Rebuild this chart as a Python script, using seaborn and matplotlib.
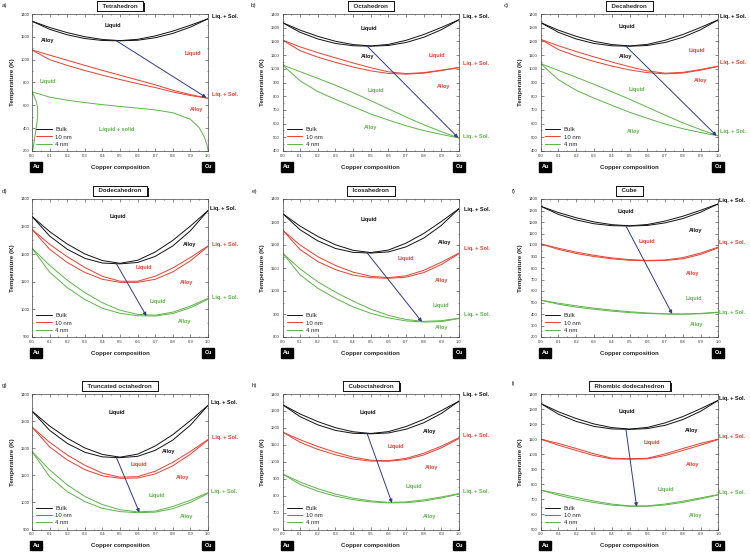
import matplotlib
matplotlib.use('Agg')
import matplotlib.pyplot as plt
import matplotlib.patheffects as pe
from matplotlib.ticker import MultipleLocator, FormatStrFormatter
import seaborn as sns

# Copper composition grid used for every curve (except the odd tetrahedron 4 nm branch)
COMPOSITION = [0.0, 0.1, 0.2, 0.3, 0.4, 0.5, 0.6, 0.7, 0.8, 0.9, 1.0]

# Bulk liquidus / solidus (same in every panel)
BULK_LIQ = [1337, 1282, 1237, 1201, 1177, 1167, 1178, 1208, 1250, 1302, 1358]
BULK_SOL = [1337, 1266, 1218, 1185, 1168, 1165, 1170, 1192, 1230, 1285, 1358]

# a) Tetrahedron
TET_10_LIQ = [1085, 1040, 995, 950, 906, 864, 822, 780, 732, 694, 662]
TET_10_SOL = [1085, 1000, 950, 905, 864, 826, 790, 756, 717, 686, 662]
TET_4_X = [0.0, 0.1, 0.2, 0.3, 0.4, 0.5, 0.6, 0.7, 0.8, 0.9, 0.95, 0.98, 0.995, 1.0]
TET_4_T = [718, 672, 645, 624, 606, 590, 576, 560, 535, 478, 405, 320, 250, 205]
TET_4_EDGE_X = [0.0, 0.012, 0.025, 0.032, 0.032, 0.026, 0.018, 0.010, 0.004]
TET_4_EDGE_T = [718, 680, 630, 580, 500, 420, 340, 260, 205]

# b) Octahedron
OCT_10_LIQ = [1210, 1160, 1118, 1080, 1043, 1008, 978, 965, 972, 990, 1010]
OCT_10_SOL = [1210, 1132, 1085, 1047, 1013, 985, 966, 961, 968, 987, 1008]
OCT_4_LIQ = [1028, 979, 930, 880, 826, 768, 708, 648, 592, 541, 495]
OCT_4_SOL = [1028, 912, 834, 777, 724, 670, 626, 584, 549, 521, 495]

# c) Decahedron
DEC_10_LIQ = [1215, 1168, 1126, 1087, 1050, 1015, 985, 968, 974, 995, 1020]
DEC_10_SOL = [1215, 1140, 1093, 1054, 1020, 992, 972, 963, 969, 990, 1017]
DEC_4_LIQ = [1038, 988, 938, 887, 833, 778, 720, 662, 606, 556, 510]
DEC_4_SOL = [1038, 920, 843, 786, 734, 683, 639, 597, 563, 535, 510]

# d) Dodecahedron
DOD_10_LIQ = [1290, 1236, 1191, 1152, 1120, 1102, 1102, 1120, 1150, 1188, 1230]
DOD_10_SOL = [1290, 1218, 1170, 1134, 1109, 1098, 1098, 1109, 1136, 1176, 1228]
DOD_4_LIQ = [1222, 1160, 1106, 1061, 1024, 997, 982, 979, 990, 1012, 1040]
DOD_4_SOL = [1222, 1135, 1079, 1036, 1004, 986, 977, 976, 985, 1006, 1037]

# e) Icosahedron
ICO_10_LIQ = [1265, 1200, 1149, 1111, 1082, 1064, 1058, 1066, 1090, 1125, 1165]
ICO_10_SOL = [1265, 1180, 1128, 1093, 1069, 1058, 1055, 1060, 1080, 1115, 1162]
ICO_4_LIQ = [1165, 1096, 1040, 995, 956, 921, 894, 876, 868, 871, 882]
ICO_4_SOL = [1165, 1070, 1012, 968, 931, 903, 883, 870, 865, 867, 880]

# f) Cube
CUB_10_LIQ = [1010, 972, 938, 910, 888, 873, 866, 870, 890, 930, 982]
CUB_10_SOL = [1010, 962, 926, 900, 880, 867, 863, 865, 880, 918, 976]
CUB_4_LIQ = [520, 494, 471, 451, 434, 420, 409, 402, 400, 405, 416]
CUB_4_SOL = [520, 485, 460, 441, 425, 412, 404, 400, 398, 402, 413]

# g) Truncated octahedron
TRO_10_LIQ = [1278, 1222, 1175, 1137, 1108, 1093, 1095, 1115, 1148, 1188, 1232]
TRO_10_SOL = [1278, 1205, 1157, 1121, 1098, 1089, 1090, 1105, 1135, 1178, 1230]
TRO_4_LIQ = [1188, 1120, 1065, 1022, 992, 973, 965, 968, 985, 1008, 1036]
TRO_4_SOL = [1188, 1095, 1040, 1003, 978, 966, 962, 964, 977, 1000, 1033]

# h) Cuboctahedron
CUO_10_LIQ = [1175, 1130, 1090, 1056, 1027, 1009, 1006, 1020, 1050, 1092, 1142]
CUO_10_SOL = [1175, 1115, 1073, 1041, 1016, 1004, 1003, 1013, 1040, 1082, 1137]
CUO_4_LIQ = [928, 880, 841, 809, 785, 769, 760, 763, 775, 792, 812]
CUO_4_SOL = [928, 866, 826, 797, 776, 763, 757, 758, 768, 786, 809]

# i) Rhombic dodecahedron
RHD_10_LIQ = [1100, 1072, 1038, 1003, 974, 970, 973, 1002, 1038, 1072, 1100]
RHD_10_SOL = [1100, 1060, 1025, 991, 969, 967, 969, 991, 1025, 1060, 1098]
RHD_4_LIQ = [762, 738, 713, 689, 669, 657, 657, 669, 688, 710, 732]
RHD_4_SOL = [762, 728, 701, 679, 662, 654, 654, 663, 680, 703, 730]

# Arrow from bulk congruent minimum to the shifted minimum
ARROW_START = (0.48, 1165)
ARROW_END_X = [0.99, 0.995, 0.99, 0.65, 0.79, 0.74, 0.61, 0.62, 0.54]
ARROW_END_T = [668, 497, 512, 976, 866, 401, 963, 757, 652]

SHAPES = ['Tetrahedron', 'Octahedron', 'Decahedron', 'Dodecahedron', 'Icosahedron',
          'Cube', 'Truncated octahedron', 'Cuboctahedron', 'Rhombic dodecahedron']
LETTERS = ['a)', 'b)', 'c)', 'd)', 'e)', 'f)', 'g)', 'h)', 'i)']

COLORS = {'bulk': '#111111', '10': '#e8402f', '4': '#5cb547'}
ARROW_COLOR = '#2c3a8c'

sns.set_theme(style='ticks')
plt.rcParams['font.family'] = ['Liberation Sans', 'DejaVu Sans']

W, H = 750, 555
fig = plt.figure(figsize=(7.5, 5.55), dpi=100)

COL_LR = [(32, 208), (282.5, 459), (540.7, 718.3)]
ROW_TB = [(14, 151), (199, 337), (394, 529.5)]
LETTER_POS = [(2, 5), (251, 5), (504, 6), (2, 191), (252, 191), (512, 191),
              (2, 385), (252, 385), (512, 384)]

L, C = 'left', 'center'
panels = [
    dict(liq10=TET_10_LIQ, sol10=TET_10_SOL, ylim=(200, 1400), step=200,
         labels=[('Liquid', 0.46, 1295, 'bulk', C), ('Alloy', 0.09, 1170, 'bulk', C),
                 ('Liq. + Sol.', 1.02, 1378, 'bulk', L), ('Liquid', 0.915, 1055, '10', C),
                 ('Liq. + Sol.', 1.02, 696, '10', L), ('Alloy', 0.935, 565, '10', C),
                 ('Liquid', 0.09, 807, '4', C), ('Liquid + solid', 0.48, 390, '4', C)]),
    dict(liq10=OCT_10_LIQ, sol10=OCT_10_SOL, liq4=OCT_4_LIQ, sol4=OCT_4_SOL, ylim=(400, 1400), step=100,
         labels=[('Liquid', 0.49, 1295, 'bulk', C), ('Alloy', 0.48, 1093, 'bulk', C),
                 ('Liq. + Sol.', 1.025, 1380, 'bulk', L), ('Liquid', 0.875, 1100, '10', C),
                 ('Liq. + Sol.', 1.025, 1040, '10', L), ('Alloy', 0.91, 870, '10', C),
                 ('Liquid', 0.53, 845, '4', C), ('Alloy', 0.5, 568, '4', C),
                 ('Liq. + Sol.', 1.025, 505, '4', L)]),
    dict(liq10=DEC_10_LIQ, sol10=DEC_10_SOL, liq4=DEC_4_LIQ, sol4=DEC_4_SOL, ylim=(400, 1400), step=100,
         labels=[('Liquid', 0.484, 1307, 'bulk', C), ('Alloy', 0.475, 1089, 'bulk', C),
                 ('Liq. + Sol.', 1.008, 1385, 'bulk', L), ('Liquid', 0.88, 1135, '10', C),
                 ('Liq. + Sol.', 1.008, 1045, '10', L), ('Alloy', 0.9, 915, '10', C),
                 ('Liquid', 0.54, 849, '4', C), ('Alloy', 0.525, 542, '4', C),
                 ('Liq. + Sol.', 1.008, 542, '4', L)]),
    dict(liq10=DOD_10_LIQ, sol10=DOD_10_SOL, liq4=DOD_4_LIQ, sol4=DOD_4_SOL, ylim=(900, 1400), step=100,
         labels=[('Liquid', 0.49, 1336, 'bulk', C), ('Alloy', 0.896, 1235, 'bulk', C),
                 ('Liq. + Sol.', 1.013, 1364, 'bulk', L), ('Liquid', 0.634, 1152, '10', C),
                 ('Liq. + Sol.', 1.025, 1235, '10', L), ('Alloy', 0.88, 1097, '10', C),
                 ('Liquid', 0.718, 1030, '4', C), ('Liq. + Sol.', 1.025, 1042, '4', L),
                 ('Alloy', 0.867, 957, '4', C)]),
    dict(liq10=ICO_10_LIQ, sol10=ICO_10_SOL, liq4=ICO_4_LIQ, sol4=ICO_4_SOL, ylim=(800, 1400), step=100,
         labels=[('Liquid', 0.487, 1311, 'bulk', C), ('Alloy', 0.92, 1210, 'bulk', C),
                 ('Liq. + Sol.', 1.028, 1356, 'bulk', L), ('Liquid', 0.70, 1140, '10', C),
                 ('Liq. + Sol.', 1.028, 1184, '10', L), ('Alloy', 0.9, 1045, '10', C),
                 ('Liquid', 0.9, 936, '4', C), ('Liq. + Sol.', 1.028, 899, '4', L),
                 ('Alloy', 0.9, 841, '4', C)]),
    dict(liq10=CUB_10_LIQ, sol10=CUB_10_SOL, liq4=CUB_4_LIQ, sol4=CUB_4_SOL, ylim=(200, 1400), step=100,
         labels=[('Liquid', 0.48, 1291, 'bulk', C), ('Alloy', 0.87, 1129, 'bulk', C),
                 ('Liq. + Sol.', 1.006, 1385, 'bulk', L), ('Liquid', 0.6, 1027, '10', C),
                 ('Liq. + Sol.', 1.006, 1018, '10', L), ('Alloy', 0.855, 753, '10', C),
                 ('Liquid', 0.865, 538, '4', C), ('Liq. + Sol.', 1.006, 415, '4', L),
                 ('Alloy', 0.88, 312, '4', C)]),
    dict(liq10=TRO_10_LIQ, sol10=TRO_10_SOL, liq4=TRO_4_LIQ, sol4=TRO_4_SOL, ylim=(900, 1400), step=100,
         labels=[('Liquid', 0.484, 1331, 'bulk', C), ('Alloy', 0.773, 1187, 'bulk', C),
                 ('Liq. + Sol.', 1.015, 1368, 'bulk', L), ('Liquid', 0.607, 1141, '10', C),
                 ('Liq. + Sol.', 1.02, 1239, '10', L), ('Alloy', 0.855, 1091, '10', C),
                 ('Liquid', 0.707, 1026, '4', C), ('Liq. + Sol.', 1.015, 1039, '4', L),
                 ('Alloy', 0.88, 949, '4', C)]),
    dict(liq10=CUO_10_LIQ, sol10=CUO_10_SOL, liq4=CUO_4_LIQ, sol4=CUO_4_SOL, ylim=(600, 1400), step=100,
         labels=[('Liquid', 0.483, 1290, 'bulk', C), ('Alloy', 0.833, 1178, 'bulk', C),
                 ('Liq. + Sol.', 1.023, 1395, 'bulk', L), ('Liquid', 0.64, 1090, '10', C),
                 ('Liq. + Sol.', 1.023, 1153, '10', L), ('Alloy', 0.843, 967, '10', C),
                 ('Liquid', 0.744, 851, '4', C), ('Liq. + Sol.', 1.023, 826, '4', L),
                 ('Alloy', 0.833, 678, '4', C)]),
    dict(liq10=RHD_10_LIQ, sol10=RHD_10_SOL, liq4=RHD_4_LIQ, sol4=RHD_4_SOL, ylim=(500, 1400), step=100,
         labels=[('Liquid', 0.486, 1283, 'bulk', C), ('Alloy', 0.85, 1157, 'bulk', C),
                 ('Liq. + Sol.', 1.006, 1371, 'bulk', L), ('Liquid', 0.626, 1078, '10', C),
                 ('Liq. + Sol.', 1.006, 1118, '10', L), ('Alloy', 0.856, 935, '10', C),
                 ('Liquid', 0.705, 769, '4', C), ('Liq. + Sol.', 1.006, 747, '4', L),
                 ('Alloy', 0.87, 593, '4', C)]),
]


def curve(ax, x, y, key, label=None):
    sns.lineplot(x=x, y=y, ax=ax, color=COLORS[key], lw=0.7, estimator=None,
                 sort=False, label=label, legend=False)


for i, p in enumerate(panels):
    row, col = divmod(i, 3)
    left, right = COL_LR[col]
    top, bottom = ROW_TB[row]
    ax = fig.add_axes([left / W, 1 - bottom / H, (right - left) / W, (bottom - top) / H])

    curve(ax, COMPOSITION, BULK_LIQ, 'bulk', 'Bulk')
    curve(ax, COMPOSITION, BULK_SOL, 'bulk')
    curve(ax, COMPOSITION, p['liq10'], '10', '10 nm')
    curve(ax, COMPOSITION, p['sol10'], '10')
    if i == 0:
        curve(ax, TET_4_X, TET_4_T, '4', '4 nm')
        curve(ax, TET_4_EDGE_X, TET_4_EDGE_T, '4')
    else:
        curve(ax, COMPOSITION, p['liq4'], '4', '4 nm')
        curve(ax, COMPOSITION, p['sol4'], '4')

    ax.annotate('', xy=(ARROW_END_X[i], ARROW_END_T[i]), xytext=ARROW_START,
                arrowprops=dict(arrowstyle='-|>', color=ARROW_COLOR, lw=0.7,
                                mutation_scale=5, shrinkA=0, shrinkB=0))

    ax.set_xlim(0, 1)
    ax.set_ylim(*p['ylim'])
    ax.xaxis.set_major_locator(MultipleLocator(0.1))
    ax.xaxis.set_minor_locator(MultipleLocator(0.05))
    ax.xaxis.set_major_formatter(FormatStrFormatter('%.1f'))
    ax.yaxis.set_major_locator(MultipleLocator(p['step']))
    ax.yaxis.set_minor_locator(MultipleLocator(p['step'] / 2))
    ax.tick_params(which='both', direction='in', top=True, right=True, width=0.4,
                   colors='#333333', labelsize=3.0, pad=2)
    ax.tick_params(which='major', length=2)
    ax.tick_params(which='minor', length=1)
    for s in ax.spines.values():
        s.set_linewidth(0.5)
        s.set_color('#444444')

    ax.set_xlabel('Copper composition', fontsize=4.3, weight='bold', labelpad=5)
    ax.set_ylabel('Temperature (K)', fontsize=4.5, weight='bold', labelpad=4)

    for text, x, t, key, ha in p['labels']:
        ax.text(x, t, text, color=COLORS[key], fontsize=4.0, weight='bold',
                ha=ha, va='center', clip_on=False)

    ax.legend(loc='lower left', frameon=False, fontsize=4.3, handlelength=2.6,
              handletextpad=0.6, labelspacing=0.35, borderaxespad=0.3)

    for name, xpos in [('Au', 0.025), ('Cu', 1.0)]:
        ax.annotate(name, xy=(xpos, 0), xycoords=('data', 'axes fraction'),
                    xytext=(0, -11.5), textcoords='offset points', ha='center', va='center',
                    color='white', fontsize=4, weight='bold', annotation_clip=False,
                    bbox=dict(boxstyle='square,pad=0.4', fc='black', ec='black'))

    cx = (left + right) / 2
    t = fig.text(cx / W, 1 - (top - 8) / H, '  ' + SHAPES[i] + '  ', ha='center', va='center',
                 fontsize=4.4, weight='bold',
                 bbox=dict(boxstyle='square,pad=0.35', fc='white', ec='black', lw=0.6))
    t.get_bbox_patch().set_path_effects([
        pe.withSimplePatchShadow(offset=(1.2, -1.2), shadow_rgbFace='black', alpha=0.9),
        pe.Normal()])

    lx, ly = LETTER_POS[i]
    fig.text(lx / W, 1 - ly / H, LETTERS[i], ha='left', va='center', fontsize=4.5)

fig.savefig('out.png', dpi=100, facecolor='white')
